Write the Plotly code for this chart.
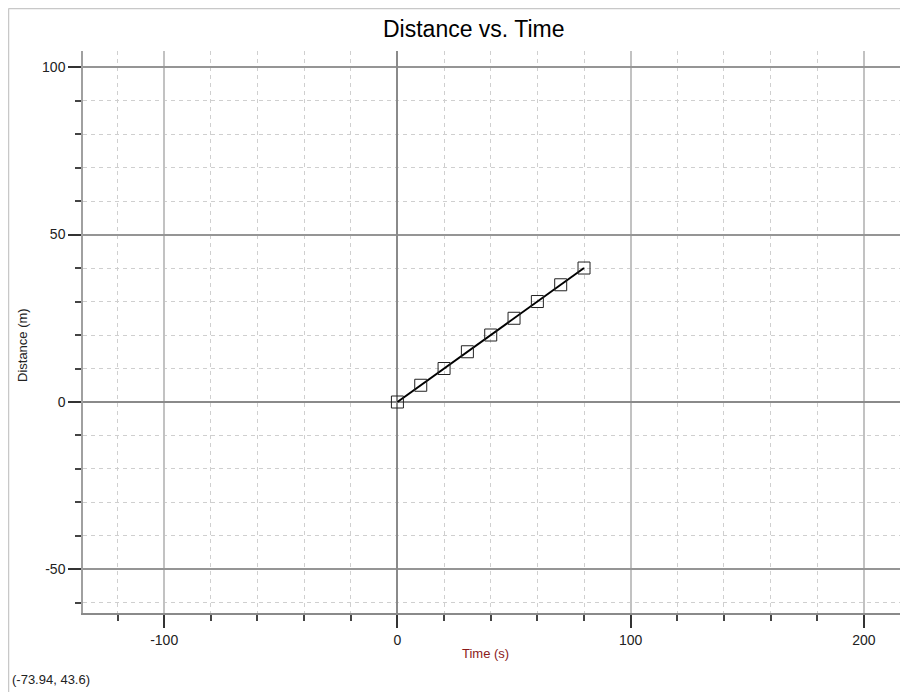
import plotly.graph_objects as go

time_s = [0, 10, 20, 30, 40, 50, 60, 70, 80]
distance_m = [0, 5, 10, 15, 20, 25, 30, 35, 40]
x_tick_vals = [-100, 0, 100, 200]
x_tick_text = ["-100", "0", "100", "200"]
y_tick_vals = [-50, 0, 50, 100]
y_tick_text = ["-50", "0", "50", "100"]

fig = go.Figure()
fig.add_trace(go.Scatter(
    x=time_s, y=distance_m, mode="lines+markers",
    line=dict(color="black", width=2),
    marker=dict(symbol="square-open", size=12, color="#222", line=dict(width=1, color="#222")),
    showlegend=False, hoverinfo="x+y",
))

# page has an 8px body margin; work in page pixel coordinates and shift
OFF = 8
W, H = 900, 684
L, R, T, B = 83 - OFF, 0, 51 - OFF, 79
pw, ph = W - L - R, H - T - B

def px_x(px):
    return (px - OFF - L) / pw

def px_y(py):
    return (H - B - (py - OFF)) / ph

tickfont = dict(family="Liberation Sans, Arial", size=14, color="#222")
minor_common = dict(showgrid=True, gridcolor="#cfcfcf", gridwidth=1, griddash="4px,4px",
                    ticks="outside", ticklen=6, tickcolor="#444", tickwidth=1.5)

fig.update_layout(
    width=W, height=H,
    margin=dict(l=L, r=R, t=T, b=B),
    paper_bgcolor="white", plot_bgcolor="white",
    font=dict(family="Liberation Sans, Arial"),
    xaxis=dict(
        range=[-134.8, 218.9], tickvals=x_tick_vals, ticktext=x_tick_text,
        showgrid=True, gridcolor="#c2c2c2", gridwidth=2,
        zeroline=True, zerolinecolor="#8a8a8a", zerolinewidth=2,
        showline=True, linecolor="#8a8a8a", linewidth=1.5,
        ticks="outside", ticklen=13, tickcolor="#333", tickwidth=1.5,
        tickfont=tickfont,
        minor=dict(dtick=20, tick0=0, **minor_common),
    ),
    yaxis=dict(
        range=[-63, 104.8], tickvals=y_tick_vals, ticktext=y_tick_text,
        showgrid=True, gridcolor="#959595", gridwidth=1.5,
        zeroline=True, zerolinecolor="#8a8a8a", zerolinewidth=2,
        showline=True, linecolor="#a0a0a0", linewidth=1.5,
        ticks="outside", ticklen=13, tickcolor="#333", tickwidth=1.5,
        tickfont=tickfont,
        minor=dict(dtick=10, tick0=0, **minor_common),
    ),
    shapes=[
        dict(type="line", xref="paper", yref="paper", x0=px_x(8.5), x1=px_x(912), y0=px_y(8.5), y1=px_y(8.5),
             line=dict(color="#c8c8c8", width=1.5)),
        dict(type="line", xref="paper", yref="paper", x0=px_x(8.5), x1=px_x(8.5), y0=px_y(8.5), y1=px_y(695),
             line=dict(color="#c8c8c8", width=1.5)),
    ],
    annotations=[
        dict(text="Distance vs. Time", xref="paper", yref="paper", x=px_x(474), y=px_y(29),
             showarrow=False, font=dict(size=23, color="black"), xanchor="center", yanchor="middle"),
        dict(text="Distance (m)", xref="paper", yref="paper", x=px_x(22), y=px_y(345),
             showarrow=False, textangle=-90, font=dict(size=13, color="#222"),
             xanchor="center", yanchor="middle"),
        dict(text="Time (s)", xref="paper", yref="paper", x=px_x(485), y=px_y(653),
             showarrow=False, font=dict(size=13, color="#8b1a1a"), xanchor="center", yanchor="middle"),
        dict(text="(-73.94, 43.6)", xref="paper", yref="paper", x=px_x(10), y=px_y(679),
             showarrow=False, font=dict(size=13, color="#222"), xanchor="left", yanchor="middle"),
    ],
)

fig.write_html("out.html")
